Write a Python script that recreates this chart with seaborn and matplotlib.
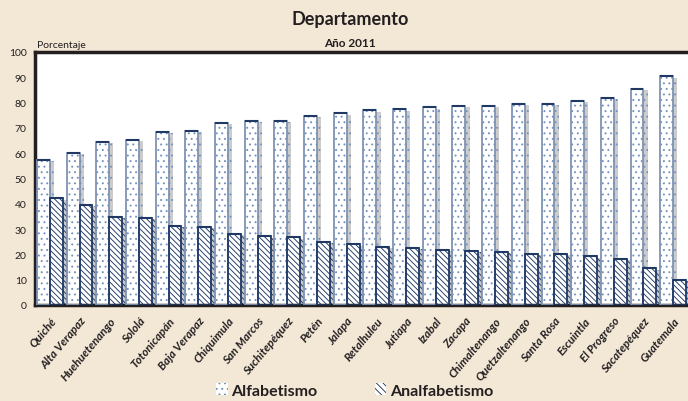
import numpy as np
import pandas as pd
import seaborn as sns
import matplotlib.pyplot as plt
from matplotlib.patches import Patch, Rectangle
import matplotlib.patheffects as pe

# data
departamentos = ['Quiché', 'Alta Verapaz', 'Huehuetenango', 'Sololá', 'Totonicapán',
                 'Baja Verapaz', 'Chiquimula', 'San Marcos', 'Suchitepéquez', 'Petén',
                 'Jalapa', 'Retalhuleu', 'Jutiapa', 'Izabal', 'Zacapa', 'Chimaltenango',
                 'Quetzaltenango', 'Santa Rosa', 'Escuintla', 'El Progreso',
                 'Sacatepéquez', 'Guatemala']
alfabetismo = [57.4, 60.1, 64.6, 65.4, 68.4, 68.8, 71.9, 72.7, 72.7, 74.7,
               75.8, 76.9, 77.3, 78.2, 78.7, 78.7, 79.6, 79.6, 80.6, 81.8,
               85.4, 90.4]
analfabetismo = [42.2, 39.7, 34.9, 34.4, 31.3, 30.9, 28.2, 27.2, 26.7, 25.0,
                 24.0, 23.0, 22.7, 21.7, 21.4, 21.1, 20.3, 20.2, 19.2, 18.3,
                 14.5, 9.9]
series = ['Alfabetismo', 'Analfabetismo']

df = pd.DataFrame({
    'departamento': departamentos * 2,
    'tipo': [series[0]] * len(departamentos) + [series[1]] * len(departamentos),
    'valor': alfabetismo + analfabetismo,
})

bg = '#F3E8D6'
navy = '#1F3864'
dark = '#231F20'
dots = '#7391C0'
light_edge = '#7F93B2'

sns.set_style('white')
plt.rcParams['font.family'] = ['Lato', 'DejaVu Sans']
plt.rcParams['hatch.linewidth'] = 0.65

fig = plt.figure(figsize=(6.88, 4.02), dpi=100, facecolor=bg)
ax = fig.add_axes([35 / 688, 1 - 306 / 402, 1 - 35 / 688, 253 / 402])
ax.set_facecolor('white')

sns.barplot(data=df, x='departamento', y='valor', hue='tipo', hue_order=series,
            palette=['white', 'white'], width=0.87, legend=False, ax=ax,
            linewidth=0, saturation=1)

hatches = ['...', '\\\\\\\\\\\\']
hcolors = [dots, navy]
outline = [light_edge, navy]
shadow = [pe.SimplePatchShadow(offset=(3, -1), shadow_rgbFace='#808080', alpha=0.4),
          pe.Normal()]
for cont, h, hc, oc in zip(ax.containers, hatches, hcolors, outline):
    for bar in cont:
        bar.set_hatch(h)
        bar.set_edgecolor(hc)
        bar.set_linewidth(0)
        bar.set_path_effects(shadow)
        x0, y0 = bar.get_xy()
        w, hgt = bar.get_width(), bar.get_height()
        ax.add_patch(Rectangle((x0, y0), w, hgt, fill=False, edgecolor=oc,
                               linewidth=1.3, zorder=3))
        # darker top edge
        ax.plot([x0, x0 + w], [y0 + hgt, y0 + hgt], color=navy, lw=1.5, zorder=4,
                solid_capstyle='butt')

ax.set_ylim(0, 100)
ax.set_xlim(-0.5, 21.27)
ax.set_yticks(np.arange(0, 101, 10))
ax.set_xticks(range(len(departamentos)))
ax.set_xticklabels(departamentos, rotation=50, ha='right', rotation_mode='anchor',
                   fontsize=8.3, fontweight='bold', fontstyle='italic', color=dark)
ax.set_xticks(np.arange(-0.5, len(departamentos), 1), minor=True)
ax.tick_params(axis='x', which='major', length=0, pad=7)
ax.tick_params(axis='x', which='minor', length=4, width=1.5, color=dark, direction='out')
ax.tick_params(axis='y', length=4, width=1.5, color=dark, direction='out',
               labelsize=7.5, labelcolor=dark, pad=2)
ax.set_xlabel('')
ax.set_ylabel('')
for s in ['left', 'bottom', 'top']:
    ax.spines[s].set_visible(True)
    ax.spines[s].set_color(dark)
    ax.spines[s].set_linewidth(2.5)
ax.spines['right'].set_visible(False)

fig.text(350 / 688, 1 - 20 / 402, 'Departamento', ha='center', va='center',
         fontsize=13, fontweight='bold', color=dark)
fig.text(350 / 688, 1 - 43.5 / 402, 'Año 2011', ha='center', va='center',
         fontsize=8.5, fontweight='bold', color=dark)
fig.text(37 / 688, 1 - 45 / 402, 'Porcentaje', ha='left', va='center',
         fontsize=7.5, color=dark)

handles = [Patch(facecolor='white', edgecolor=dots, hatch='...', linewidth=0),
           Patch(facecolor='white', edgecolor=navy, hatch='\\\\\\\\\\', linewidth=0)]
leg = fig.legend(handles, series, loc='center', bbox_to_anchor=(0.515, 0.026), ncol=2,
                 frameon=False, fontsize=11.5, handlelength=0.75, handleheight=0.75,
                 handletextpad=0.2, columnspacing=3.6, borderaxespad=0)
for t in leg.get_texts():
    t.set_fontweight('bold')
    t.set_color(dark)

fig.savefig('out.png', dpi=100, facecolor=bg)
